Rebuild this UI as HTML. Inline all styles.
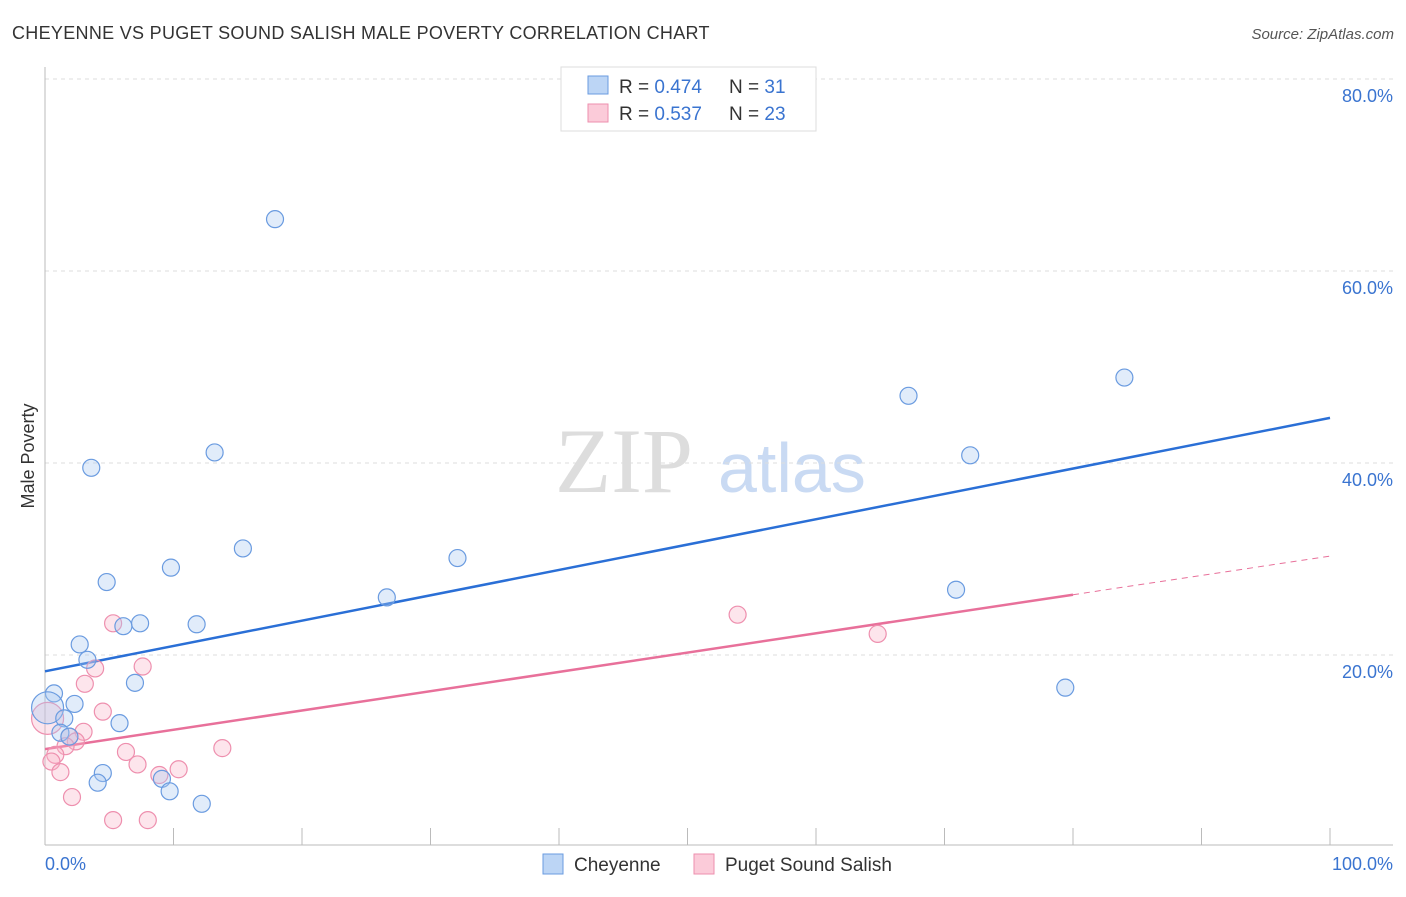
<!DOCTYPE html>
<html><head><meta charset="utf-8"><style>
body{margin:0;background:#fff;font-family:"Liberation Sans",sans-serif}
</style></head><body>
<svg width="1406" height="892" viewBox="0 0 1406 892" xmlns="http://www.w3.org/2000/svg">
<text x="12" y="39" font-size="18" fill="#333" letter-spacing="0.3">CHEYENNE VS PUGET SOUND SALISH MALE POVERTY CORRELATION CHART</text>
<text x="1394" y="39" font-size="15" fill="#555" font-style="italic" text-anchor="end">Source: ZipAtlas.com</text>
<text x="34" y="456" font-size="18" fill="#333" transform="rotate(-90 34 456)" text-anchor="middle">Male Poverty</text>
<text x="555" y="492" font-size="92" fill="#ddd" font-family="Liberation Serif,serif">ZIP</text>
<text x="718" y="492" font-size="70" fill="#c9daf3">atlas</text>
<g id="grid"></g>
<line x1="45" y1="67" x2="45" y2="845" stroke="#bbb"/>
<line x1="45" y1="845" x2="1393" y2="845" stroke="#bbb"/>
<g id="xticks"></g>
<text x="45" y="870" font-size="18" fill="#3a74d0">0.0%</text>
<text x="1393" y="870" font-size="18" fill="#3a74d0" text-anchor="end">100.0%</text>
<g id="trend"></g>
<g id="pts"></g>
<g>
<rect x="561" y="67" width="255" height="64" fill="#fff" stroke="#ddd"/>
<rect x="588" y="76" width="20" height="18" fill="#bcd5f5" stroke="#6a9be0"/>
<rect x="588" y="104" width="20" height="18" fill="#fbcbd9" stroke="#ee8fae"/>
<text x="619" y="93" font-size="19" fill="#333">R = <tspan fill="#3a74d0">0.474</tspan></text>
<text x="729" y="93" font-size="19" fill="#333">N = <tspan fill="#3a74d0"> 31</tspan></text>
<text x="619" y="120" font-size="19" fill="#333">R = <tspan fill="#3a74d0">0.537</tspan></text>
<text x="729" y="120" font-size="19" fill="#333">N = <tspan fill="#3a74d0">23</tspan></text>
</g>
<g>
<rect x="543" y="854" width="20" height="20" fill="#bcd5f5" stroke="#6a9be0"/>
<text x="574" y="871" font-size="19" fill="#333">Cheyenne</text>
<rect x="694" y="854" width="20" height="20" fill="#fbcbd9" stroke="#ee8fae"/>
<text x="725" y="871" font-size="19" fill="#333">Puget Sound Salish</text>
</g>
</svg>
<script>
const yTicks=[20,40,60,80];
const yTickLabels=["20.0%","40.0%","60.0%","80.0%"];
const xTicks=[0,10,20,30,40,50,60,70,80,90,100];
const cheyX=[17.9,3.6,13.2,15.4,9.8,4.8,7.4,6.1,11.8,2.7,3.3,7.0,0.7,2.3,0.2,1.5,5.8,1.2,1.9,4.5,4.1,9.1,9.7,12.2,26.6,32.1,67.2,72.0,70.9,84.0,79.4];
const cheyY=[65.4,39.5,41.1,31.1,29.1,27.6,23.3,23.0,23.2,21.1,19.5,17.1,16.0,14.9,14.5,13.4,12.9,11.9,11.5,7.7,6.7,7.1,5.8,4.5,26.0,30.1,47.0,40.8,26.8,48.9,16.6];
const pugX=[5.3,7.6,3.9,3.1,4.5,0.2,3.0,1.9,2.4,1.6,6.3,0.8,0.5,1.2,7.2,8.9,10.4,13.8,2.1,5.3,8.0,53.9,64.8];
const pugY=[23.3,18.8,18.6,17.0,14.1,13.4,12.0,11.5,11.0,10.5,9.9,9.6,8.9,7.8,8.6,7.5,8.1,10.3,5.2,2.8,2.8,24.2,22.2];
const cheyTrend=[18.3,44.7];
const pugTrend=[10.2,30.3];
const pugSolidEnd=80;
const NS="http://www.w3.org/2000/svg";
const sx=v=>45+v*12.85, sy=v=>847-v*9.6;
function mk(t,a,p){const e=document.createElementNS(NS,t);for(const k in a)e.setAttribute(k,a[k]);p.appendChild(e);return e;}
const grid=document.getElementById('grid');
yTicks.forEach((t,i)=>{
 const l=mk('line',{x1:45,x2:1393,y1:sy(t),y2:sy(t),stroke:'#ddd','stroke-dasharray':'4,4'},grid);
 
 
 const tx=mk('text',{x:1393,y:sy(t)+23,'font-size':18,fill:'#3a74d0','text-anchor':'end'},grid);
 tx.textContent=yTickLabels[i];
 
 
});
const xt=document.getElementById('xticks');
xTicks.forEach(t=>{
 const l=mk('line',{x1:sx(t),x2:sx(t),y1:828,y2:845,stroke:'#bbb'},xt);
 
 
});
const tr=document.getElementById('trend');
let l1=mk('line',{x1:sx(0),y1:sy(cheyTrend[0]),x2:sx(100),y2:sy(cheyTrend[1]),stroke:'#2a6fd6','stroke-width':2.5},tr);


const pm=pugTrend[0]+(pugTrend[1]-pugTrend[0])*pugSolidEnd/100;
let l2=mk('line',{x1:sx(0),y1:sy(pugTrend[0]),x2:sx(pugSolidEnd),y2:sy(pm),stroke:'#e8709a','stroke-width':2.5},tr);


let l3=mk('line',{x1:sx(pugSolidEnd),y1:sy(pm),x2:sx(100),y2:sy(pugTrend[1]),stroke:'#e8709a','stroke-width':1,'stroke-dasharray':'6,5'},tr);


const pts=document.getElementById('pts');
pugX.forEach((x,i)=>{
 const c=mk('circle',{cx:sx(x),cy:sy(pugY[i]),r:i==5?16:8.5,fill:'rgba(248,180,200,0.35)',stroke:'#ee8fae','stroke-width':1.2},pts);
 
 
});
cheyX.forEach((x,i)=>{
 const c=mk('circle',{cx:sx(x),cy:sy(cheyY[i]),r:i==14?16:8.5,fill:'rgba(170,200,240,0.35)',stroke:'#6a9be0','stroke-width':1.2},pts);
 
 
});
</script>
</body></html>
